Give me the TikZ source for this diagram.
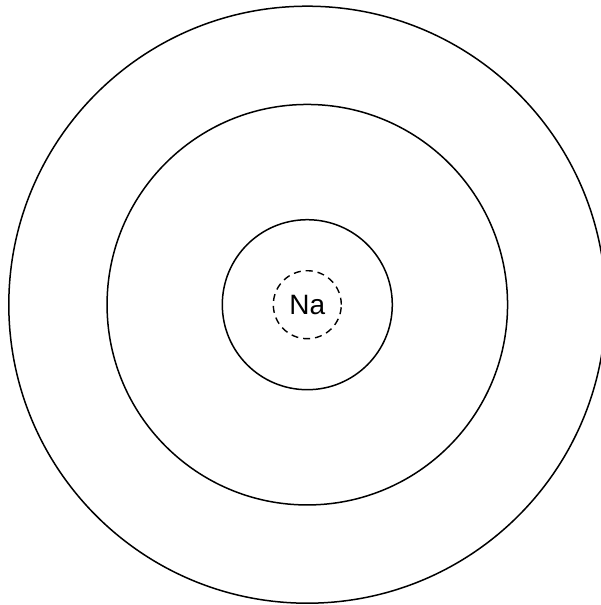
\documentclass[tikz,border=0pt]{standalone}
\usepackage{fontspec}
\setmainfont{Liberation Sans}
\begin{document}
\begin{tikzpicture}[x=1pt, y=-1pt,
    shell/.style={circle, draw, line width=1.5pt, inner sep=0pt},
    kern/.style={circle, draw, dashed, dash pattern=on 7pt off 5pt, line width=1.4pt, inner sep=0pt,
      minimum size=68pt, font=\fontsize{28}{30}\selectfont}]

  \useasboundingbox (0,0) rectangle (600,605);

  % Middelpunt van het atoom
  \coordinate (c) at (307.3,304.7);

  % Schillen
  \node[shell, minimum size=597pt] (shellM) at (c) {};
  \node[shell, minimum size=400.5pt] (shellL) at (c) {};
  \node[shell, minimum size=170pt] (shellK) at (c) {};

  % Kern
  \node[kern] (na) at (c) {Na};

\end{tikzpicture}
\end{document}
